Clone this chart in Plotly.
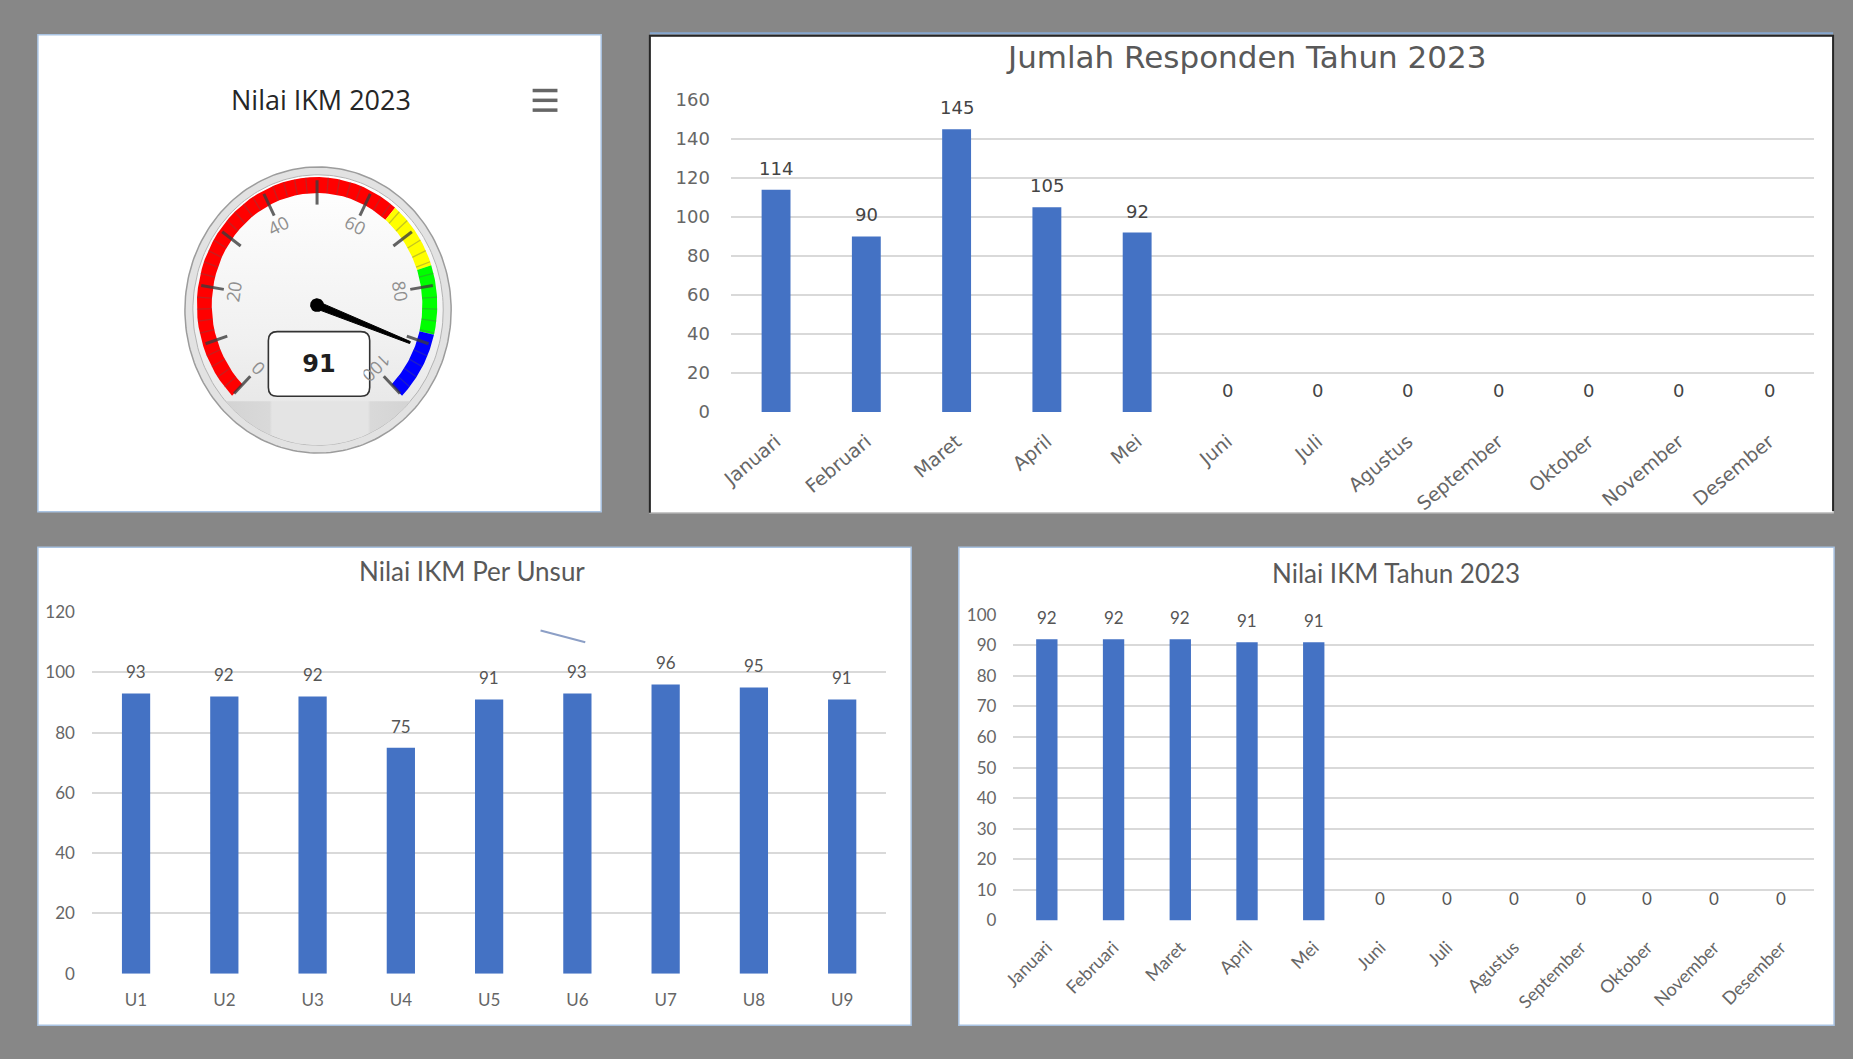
import math
import plotly.graph_objects as go

# The page keeps the browser's default 8px body margin, so the figure is sized
# to fit inside it and every reference pixel p is placed at p - OFF.
VW, VH = 1853, 1059
OFF = 8
W, H = VW - 2 * OFF, VH - 2 * OFF

# ---------------- data ----------------
bulan = ["Januari", "Februari", "Maret", "April", "Mei", "Juni", "Juli",
         "Agustus", "September", "Oktober", "November", "Desember"]
responden = [114, 90, 145, 105, 92, 0, 0, 0, 0, 0, 0, 0]
unsur = ["U1", "U2", "U3", "U4", "U5", "U6", "U7", "U8", "U9"]
nilai_unsur = [93, 92, 92, 75, 91, 93, 96, 95, 91]
nilai_bulanan = [92, 92, 92, 91, 91, 0, 0, 0, 0, 0, 0, 0]
ikm_2023 = 91
gauge_min, gauge_max = 0, 100
band_edges = [0, 65, 76.6, 88.3, 100]
band_colors = ["#ff0000", "#ffff00", "#00ff00", "#0000ff"]
gauge_ticks = [0, 20, 40, 60, 80, 100]

BAR = "#4472C4"
BG = "#878787"


def fx(p):
    return (p - OFF) / W


def fy(p):
    return 1 - (p - OFF) / H


fig = go.Figure()
shapes = []
annotations = []

# ---------------- panels ----------------
panels = [
    (26, 24, 593, 511, "#a9c3e2", 1.5),
    (642, 25, 1833, 512, "#c8c8c8", 1.5),
    (26, 547, 905, 1035, "#a9c3e2", 1.5),
    (953, 547, 1834, 1035, "#a9c3e2", 1.5),
]
for x0, y0, x1, y1, lc, lw in panels:
    shapes.append(dict(type="rect", xref="paper", yref="paper",
                       x0=fx(x0), x1=fx(x1), y0=fy(y1), y1=fy(y0),
                       fillcolor="white", line=dict(color=lc, width=lw), layer="below"))
shapes.append(dict(type="path", xref="paper", yref="paper",
                   path=f"M{fx(642)},{fy(512)} L{fx(642)},{fy(25)} L{fx(1833)},{fy(25)} L{fx(1833)},{fy(510)}",
                   line=dict(color="#262626", width=2), layer="below"))
shapes.append(dict(type="line", xref="paper", yref="paper", x0=fx(642), x1=fx(1833),
                   y0=fy(22.5), y1=fy(22.5), line=dict(color="#86a7cf", width=2), layer="below"))

# ---------------- bar charts ----------------
f2 = "DejaVu Sans"
f34 = "Lato"

fig.add_trace(go.Bar(x=bulan, y=responden, xaxis="x", yaxis="y", width=0.32,
                     marker=dict(color=BAR, line_width=0)))
fig.add_trace(go.Bar(x=unsur, y=nilai_unsur, xaxis="x2", yaxis="y2", width=0.32,
                     marker=dict(color=BAR, line_width=0)))
fig.add_trace(go.Bar(x=bulan, y=nilai_bulanan, xaxis="x3", yaxis="y3", width=0.32,
                     marker=dict(color=BAR, line_width=0)))


def cat_axis(domain, anchor, angle, font, standoff):
    return dict(domain=domain, anchor=anchor, type="category", showgrid=False,
                zeroline=False, showline=False, ticks="", tickangle=angle,
                tickfont=font, ticklabelstandoff=standoff, fixedrange=True)


def val_axis(domain, anchor, rng, dtick, font, standoff):
    return dict(domain=domain, anchor=anchor, range=rng, dtick=dtick, tick0=0,
                showgrid=True, gridcolor="#d9d9d9", gridwidth=1.5, zeroline=False,
                showline=False, ticks="", tickfont=font, ticklabelstandoff=standoff,
                fixedrange=True)


def data_labels(cats, vals, xr, yr, font):
    for c, v in zip(cats, vals):
        annotations.append(dict(x=c, y=v, xref=xr, yref=yr, text=str(v), showarrow=False,
                                yanchor="bottom", yshift=9, font=font))


data_labels(bulan, responden, "x", "y", dict(family=f2, size=18, color="#444444"))
data_labels(unsur, nilai_unsur, "x2", "y2", dict(family=f34, size=17, color="#555555"))
data_labels(bulan, nilai_bulanan, "x3", "y3", dict(family=f34, size=17, color="#555555"))

titles = [
    ("Jumlah Responden Tahun 2023", 1243, 47, dict(family=f2, size=31, color="#595959")),
    ("Nilai IKM Per Unsur", 463, 571, dict(family=f34, size=26, color="#595959")),
    ("Nilai IKM Tahun 2023", 1393, 573, dict(family=f34, size=26, color="#595959")),
    ("Nilai IKM 2023", 311, 90, dict(family="Open Sans", size=27, color="#262626")),
]
for t, x, y, f in titles:
    annotations.append(dict(x=fx(x), y=fy(y), xref="paper", yref="paper", text=t,
                            showarrow=False, xanchor="center", yanchor="middle", font=f))

# ---------------- gauge (drawn on a pixel-scaled overlay axis) ----------------
GX, GY = 307, 300
KY = 1.08
R_OUT, R_IN = 121, 106


def ang(v):
    return -135 + 270 * (v - gauge_min) / (gauge_max - gauge_min)


def gpt(v, r):
    th = math.radians(ang(v))
    return GX + r * math.sin(th), GY - r * KY * math.cos(th)


def ellipse(cx, cy, rx, ry, n=200):
    xs = [cx + rx * math.cos(2 * math.pi * i / n) for i in range(n + 1)]
    ys = [cy + ry * math.sin(2 * math.pi * i / n) for i in range(n + 1)]
    return xs, ys


g = dict(xaxis="x4", yaxis="y4", hoverinfo="skip", showlegend=False)

bx, by = ellipse(308, 305, 134, 146)
fig.add_trace(go.Scatter(x=bx, y=by, mode="lines", fill="toself", fillcolor="#e2e2e2",
                         line=dict(color="#9c9c9c", width=1.5), **g))
FCX, FCY, FRX, FRY = 308, 305, 126, 138
ex, ey = ellipse(FCX, FCY, FRX, FRY)
fig.add_trace(go.Scatter(x=ex, y=ey, mode="lines", fill="toself",
                         fillgradient=dict(type="vertical",
                                           colorscale=[[0, "#ffffff"], [0.6, "#f0f0f0"], [1, "#e2e2e2"]],
                                           start=FCY - FRY, stop=FCY + FRY),
                         line=dict(color="#b4b4b4", width=1), **g))
ycut = 398
t0 = math.asin((ycut - FCY) / FRY)
n = 80
sx = [FCX + FRX * math.cos(t0 + (math.pi - 2 * t0) * i / n) for i in range(n + 1)]
sy = [FCY + FRY * math.sin(t0 + (math.pi - 2 * t0) * i / n) for i in range(n + 1)]
sx.append(sx[0])
sy.append(sy[0])
fig.add_trace(go.Scatter(x=sx, y=sy, mode="lines", fill="toself",
                         fillgradient=dict(type="horizontal",
                                           colorscale=[[0, "#cfcfcf"], [0.3, "#d9d9d9"], [0.31, "#e4e4e4"],
                                                       [0.69, "#e4e4e4"], [0.7, "#d9d9d9"], [1, "#cfcfcf"]],
                                           start=FCX - FRX, stop=FCX + FRX),
                         line=dict(width=0), **g))

for i, col in enumerate(band_colors):
    v0, v1 = band_edges[i], band_edges[i + 1]
    m = 40
    vs = [v0 + (v1 - v0) * k / m for k in range(m + 1)]
    outer = [gpt(v, R_OUT) for v in vs]
    inner = [gpt(v, R_IN) for v in reversed(vs)]
    pts = outer + inner + [outer[0]]
    fig.add_trace(go.Scatter(x=[p[0] for p in pts], y=[p[1] for p in pts], mode="lines",
                             fill="toself", fillcolor=col, line=dict(width=0), **g))

mx, my = [], []
for v in range(gauge_min, gauge_max + 1, 2):
    if v % 10:
        a, b = gpt(v, R_IN), gpt(v, R_OUT)
        mx += [a[0], b[0], None]
        my += [a[1], b[1], None]
fig.add_trace(go.Scatter(x=mx, y=my, mode="lines", line=dict(color="rgba(90,90,90,0.35)", width=1.3), **g))
tx, ty = [], []
for v in range(gauge_min, gauge_max + 1, 10):
    a, b = gpt(v, 95), gpt(v, 118)
    tx += [a[0], b[0], None]
    ty += [a[1], b[1], None]
fig.add_trace(go.Scatter(x=tx, y=ty, mode="lines", line=dict(color="rgba(60,60,60,0.8)", width=3), **g))

th = math.radians(ang(ikm_2023))
d = (math.sin(th), math.cos(th))
pp = (math.cos(th), -math.sin(th))
L = 100


def tr(u, w):
    return GX + u, GY - w * KY


needle = [tr(3.5 * pp[0], 3.5 * pp[1]), tr(L * d[0] + pp[0], L * d[1] + pp[1]),
          tr(L * d[0] - pp[0], L * d[1] - pp[1]), tr(-3.5 * pp[0], -3.5 * pp[1])]
needle.append(needle[0])
fig.add_trace(go.Scatter(x=[p[0] for p in needle], y=[p[1] for p in needle], mode="lines",
                         fill="toself", fillcolor="#000000", line=dict(color="#000000", width=1), **g))
cx_, cy_ = ellipse(GX, GY, 7, 7, 60)
fig.add_trace(go.Scatter(x=cx_, y=cy_, mode="lines", fill="toself", fillcolor="#000000",
                         line=dict(color="#000000", width=0), **g))

for v in gauge_ticks:
    x, y = gpt(v, 0.8 * R_IN)
    annotations.append(dict(x=x, y=y, xref="x4", yref="y4", text=str(v), showarrow=False,
                            textangle=ang(v), font=dict(family="Open Sans", size=18, color="#8f8f8f")))

bx0, bx1, by0, by1, rr = GX - 49, GX + 53, GY + 27, GY + 93, 9
path = (f"M{bx0+rr},{by0} L{bx1-rr},{by0} Q{bx1},{by0} {bx1},{by0+rr} L{bx1},{by1-rr} "
        f"Q{bx1},{by1} {bx1-rr},{by1} L{bx0+rr},{by1} Q{bx0},{by1} {bx0},{by1-rr} "
        f"L{bx0},{by0+rr} Q{bx0},{by0} {bx0+rr},{by0} Z")
shapes.append(dict(type="path", xref="x4", yref="y4", path=path, fillcolor="white",
                   line=dict(color="#333333", width=1.6), layer="above"))
annotations.append(dict(x=(bx0 + bx1) / 2, y=(by0 + by1) / 2, xref="x4", yref="y4",
                        text=f"<b>{ikm_2023}</b>", showarrow=False, bgcolor="white",
                        width=86, height=52, font=dict(family="DejaVu Sans", size=24, color="#1e1e1e")))

for yy in (81, 91, 101):
    shapes.append(dict(type="line", xref="paper", yref="paper", x0=fx(524), x1=fx(549),
                       y0=fy(yy), y1=fy(yy), line=dict(color="#666666", width=3.5), layer="above"))
shapes.append(dict(type="line", xref="paper", yref="paper", x0=fx(532), y0=fy(632),
                   x1=fx(577), y1=fy(644), line=dict(color="#8c9fc6", width=2), layer="above"))

tick2 = dict(family=f2, size=18, color="#666666")
tick34 = dict(family=f34, size=17, color="#666666")

fig.update_layout(
    width=W, height=H, margin=dict(l=0, r=0, t=0, b=0),
    paper_bgcolor=BG, plot_bgcolor="rgba(0,0,0,0)", showlegend=False,
    xaxis=cat_axis([fx(723.6), fx(1814)], "y", -40, dict(family=f2, size=19, color="#666666"), 14),
    yaxis=val_axis([fy(409), fy(90.7)], "x", [0, 160], 20, tick2, 20),
    xaxis2=cat_axis([fx(80.4), fx(880)], "y2", 0, tick34, 14),
    yaxis2=val_axis([fy(982.3), fy(613.3)], "x2", [0, 120], 20, tick34, 16),
    xaxis3=cat_axis([fx(1008), fx(1814)], "y3", -45, dict(family=f34, size=18, color="#666666"), 12),
    yaxis3=val_axis([fy(928), fy(616)], "x3", [0, 100], 10, tick34, 16),
    xaxis4=dict(domain=[0, 1], anchor="y4", range=[OFF, OFF + W], visible=False, fixedrange=True),
    yaxis4=dict(domain=[0, 1], anchor="x4", range=[OFF + H, OFF], visible=False, fixedrange=True),
    shapes=shapes, annotations=annotations,
)

# paint the 8px page margin in the same grey as the dashboard background
fig.write_html("out.html", config={"displayModeBar": False},
               post_script="document.body.style.background='" + BG + "';")
